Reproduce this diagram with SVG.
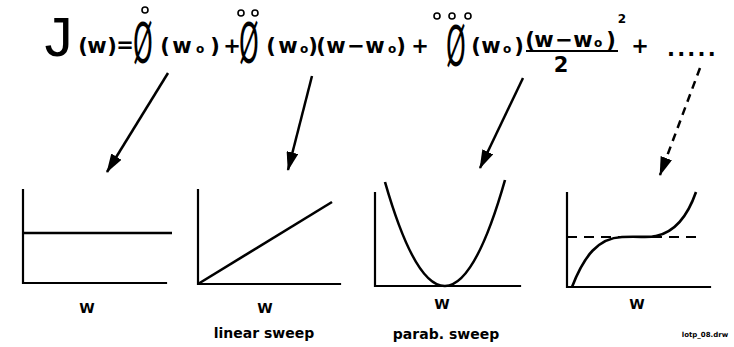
<svg xmlns="http://www.w3.org/2000/svg" width="734" height="347" viewBox="0 0 734 347">
<style>
.eq{font-family:"DejaVu Sans","Liberation Sans",sans-serif;font-weight:bold;font-size:21px;fill:#000}
.sub{font-size:12px}
.phi{font-family:"DejaVu Sans","Liberation Sans",sans-serif;font-size:56px;fill:#000}
.dot{fill:none;stroke:#000;stroke-width:1.6}
.lbl{font-family:"DejaVu Sans","Liberation Sans",sans-serif;font-weight:bold;font-size:14px;fill:#000;text-anchor:middle}
.ax{fill:none;stroke:#000;stroke-width:2.2;stroke-linecap:square}
.cv{fill:none;stroke:#000;stroke-width:2.6}
.arr{fill:none;stroke:#000;stroke-width:2.5}
</style>
<defs>
<marker id="ah" markerUnits="userSpaceOnUse" markerWidth="20" markerHeight="12" refX="18" refY="6" orient="auto">
<path d="M0,0 L19,6 L0,12 z" fill="#000"/>
</marker>
</defs>
<rect width="734" height="347" fill="#fff"/>
<g id="equation">
<text x="58" y="56" font-family="Liberation Mono,monospace" font-size="58" text-anchor="middle">J</text>
<text class="eq" x="83 97 112" y="53" text-anchor="middle">(w)</text>
<text class="eq" x="125" y="52" text-anchor="middle">=</text>
<text class="phi" transform="translate(143,62) scale(0.45,1)" text-anchor="middle">Ø</text>
<circle class="dot" cx="145" cy="10" r="3"/>
<text class="eq" x="165 182" y="53" text-anchor="middle">(w<tspan class="sub" x="200">o</tspan><tspan x="215">)</tspan></text>
<text class="eq" x="232" y="53" text-anchor="middle">+</text>
<text class="phi" transform="translate(249,62) scale(0.45,1)" text-anchor="middle">Ø</text>
<circle class="dot" cx="241" cy="13" r="3"/>
<circle class="dot" cx="255" cy="13" r="3"/>
<text class="eq" x="271 288" y="53" text-anchor="middle">(w<tspan class="sub" x="304">o</tspan><tspan x="313 321 336 356 375">)(w−w</tspan><tspan class="sub" x="392">o</tspan><tspan x="401">)</tspan></text>
<text class="eq" x="420" y="53" text-anchor="middle">+</text>
<text class="phi" transform="translate(456,65) scale(0.45,1)" text-anchor="middle">Ø</text>
<circle class="dot" cx="437" cy="16" r="3"/>
<circle class="dot" cx="452" cy="16" r="3"/>
<circle class="dot" cx="468" cy="16" r="3"/>
<text class="eq" x="476 491" y="53" text-anchor="middle">(w<tspan class="sub" x="507">o</tspan><tspan x="519">)</tspan></text>
<text class="eq" x="530 544 564 583" y="47" text-anchor="middle">(w−w<tspan class="sub" x="598">o</tspan><tspan x="611">)</tspan></text>
<text class="eq sub" x="622" y="23" text-anchor="middle">2</text>
<line x1="526" y1="51" x2="618" y2="51" stroke="#000" stroke-width="2"/>
<text class="eq" x="561" y="72" font-size="20" text-anchor="middle">2</text>
<text class="eq" x="640" y="53" text-anchor="middle">+</text>
<text class="eq" x="667" y="56" font-size="14" letter-spacing="2.2">.....</text>
</g>
<g id="connectors">
<line class="arr" x1="168" y1="73" x2="107" y2="172" marker-end="url(#ah)"/>
<line class="arr" x1="312" y1="76" x2="288" y2="170" marker-end="url(#ah)"/>
<line class="arr" x1="523" y1="78" x2="480" y2="168" marker-end="url(#ah)"/>
<line class="arr" x1="700" y1="68" x2="660" y2="175" stroke-dasharray="8 6" marker-end="url(#ah)"/>
</g>
<g id="plot-constant">
<path class="ax" d="M23,190 L23,283 L166,283"/>
<line class="cv" x1="23" y1="233" x2="172" y2="233"/>
<text class="lbl" x="87" y="313">W</text>
</g>
<g id="plot-linear">
<path class="ax" d="M198,190 L198,284 L340,284"/>
<line class="cv" x1="198" y1="284" x2="332" y2="202"/>
<text class="lbl" x="265" y="313">W</text>
<text class="lbl" x="264" y="338">linear sweep</text>
</g>
<g id="plot-parabolic">
<path class="ax" d="M375,193 L375,286 L520,286"/>
<path class="cv" d="M385,182 Q445,391 505,180"/>
<text class="lbl" x="442" y="309">W</text>
<text class="lbl" x="446" y="339">parab. sweep</text>
</g>
<g id="plot-cubic">
<path class="ax" d="M567,193 L567,287 L710,287"/>
<line x1="567" y1="237" x2="702" y2="237" stroke="#000" stroke-width="2" stroke-dasharray="10 7"/>
<path class="cv" d="M572,287 C584,256 598,238 622,237 C640,236 648,238 656,236 C676,232 688,215 696,192"/>
<text class="lbl" x="637" y="309">W</text>
</g>
<text x="705" y="337" font-family="DejaVu Sans,sans-serif" font-weight="bold" font-size="7" text-anchor="middle">lotp_08.drw</text>
</svg>
